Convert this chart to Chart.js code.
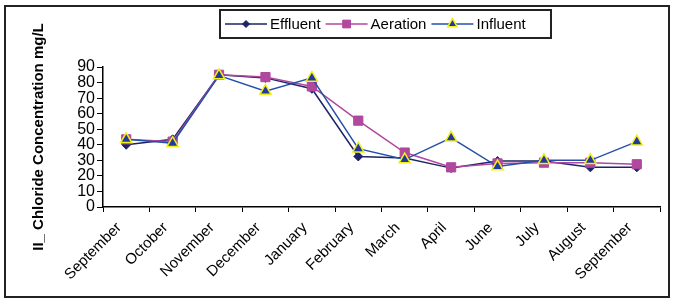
<!DOCTYPE html>
<html>
<head>
<meta charset="utf-8">
<script src="https://cdn.jsdelivr.net/npm/chart.js@4.4.0/dist/chart.umd.min.js"></script>
<style>
  body { margin: 0; background: #fff; }
</style>
</head>
<body>
<canvas id="chart" width="674" height="301"></canvas>
<script>
const months = ["September", "October", "November", "December", "January", "February",
  "March", "April", "June", "July", "August", "September"];
const effluent = [40, 43.5, 85, 83, 76, 32.5, 31.5, 25, 29.5, 29.5, 25.5, 25.5];
const aeration = [43.5, 42, 85, 83.5, 77.5, 55.5, 35, 25.5, 28, 28.5, 28.5, 27.5];
const influent = [43.5, 41, 84.5, 74.5, 83, 37.5, 30.5, 44.5, 26, 30, 30, 42];
const yTitle = "II_ Chloride Concentration mg/L";

const FONT = "Arial, 'Liberation Sans', sans-serif";

// white background + outer frame
const frame = {
  id: "frame",
  beforeDraw(chart) {
    const ctx = chart.ctx;
    ctx.save();
    ctx.fillStyle = "#fff";
    ctx.fillRect(0, 0, chart.width, chart.height);
    ctx.lineWidth = 2;
    ctx.strokeStyle = "#222";
    ctx.strokeRect(5, 6, 664, 291);
    ctx.restore();
  }
};

// boxed legend with line + marker samples
const boxLegend = {
  id: "boxLegend",
  afterDraw(chart) {
    const ctx = chart.ctx;
    ctx.save();
    ctx.lineWidth = 2;
    ctx.strokeStyle = "#222";
    ctx.strokeRect(220, 10, 331, 28);
    ctx.font = "15px " + FONT;
    ctx.textBaseline = "middle";
    const y = 24;
    let x = 225;
    chart.data.datasets.forEach(ds => {
      ctx.strokeStyle = ds.borderColor;
      ctx.lineWidth = 1.5;
      ctx.beginPath();
      ctx.moveTo(x, y);
      ctx.lineTo(x + 42, y);
      ctx.stroke();
      ctx.fillStyle = ds.pointBackgroundColor;
      ctx.strokeStyle = ds.pointBorderColor;
      ctx.lineWidth = ds.pointBorderWidth;
      Chart.helpers.drawPoint(ctx, {
        pointStyle: ds.pointStyle,
        radius: ds.pointRadius - 1,
        rotation: 0,
        borderWidth: ds.pointBorderWidth
      }, x + 21, y);
      ctx.fillStyle = "#000";
      ctx.fillText(ds.label, x + 45, y + 1);
      x += 45 + ctx.measureText(ds.label).width + 5;
    });
    ctx.restore();
  }
};

new Chart(document.getElementById("chart"), {
  type: "line",
  data: {
    labels: months,
    datasets: [
      {
        label: "Effluent",
        data: effluent,
        borderColor: "#1c2366",
        borderWidth: 1.5,
        pointStyle: "rectRot",
        pointRadius: 4.5,
        pointBackgroundColor: "#1c2366",
        pointBorderColor: "#1c2366",
        pointBorderWidth: 1,
        order: 2
      },
      {
        label: "Aeration",
        data: aeration,
        borderColor: "#b0489e",
        borderWidth: 1.5,
        pointStyle: "rect",
        pointRadius: 6.5,
        pointBackgroundColor: "#b0489e",
        pointBorderColor: "#b0489e",
        pointBorderWidth: 1,
        order: 1
      },
      {
        label: "Influent",
        data: influent,
        borderColor: "#2450aa",
        borderWidth: 1.5,
        pointStyle: "triangle",
        pointRadius: 6.5,
        pointBackgroundColor: "#1f3c9c",
        pointBorderColor: "#f2ee1a",
        pointBorderWidth: 1.5,
        order: 0
      }
    ]
  },
  options: {
    responsive: false,
    animation: false,
    layout: { padding: { left: 24, top: 67, right: 14, bottom: 8 } },
    plugins: {
      legend: { display: false },
      tooltip: { enabled: false }
    },
    scales: {
      x: {
        offset: true,
        grid: {
          offset: true,
          drawOnChartArea: false,
          tickLength: 5,
          color: "#000"
        },
        border: { color: "#000", width: 1.5 },
        ticks: {
          color: "#000",
          font: { family: FONT, size: 15 },
          minRotation: 45,
          maxRotation: 45,
          padding: 7,
          labelOffset: -7
        },
        afterFit: scale => { scale.height = 301 - 207 - 8; }
      },
      y: {
        min: 0,
        max: 90,
        grid: {
          drawOnChartArea: false,
          tickLength: 6,
          color: "#000"
        },
        border: { color: "#000", width: 1.5 },
        ticks: {
          stepSize: 10,
          autoSkip: false,
          color: "#000",
          font: { family: FONT, size: 16 },
          padding: 2
        },
        title: {
          display: true,
          text: yTitle,
          color: "#000",
          font: { family: FONT, size: 15, weight: "bold" },
          padding: { top: 6, bottom: 0 }
        },
        afterFit: scale => { scale.width = 103 - 24; }
      }
    }
  },
  plugins: [frame, boxLegend]
});
</script>
</body>
</html>
